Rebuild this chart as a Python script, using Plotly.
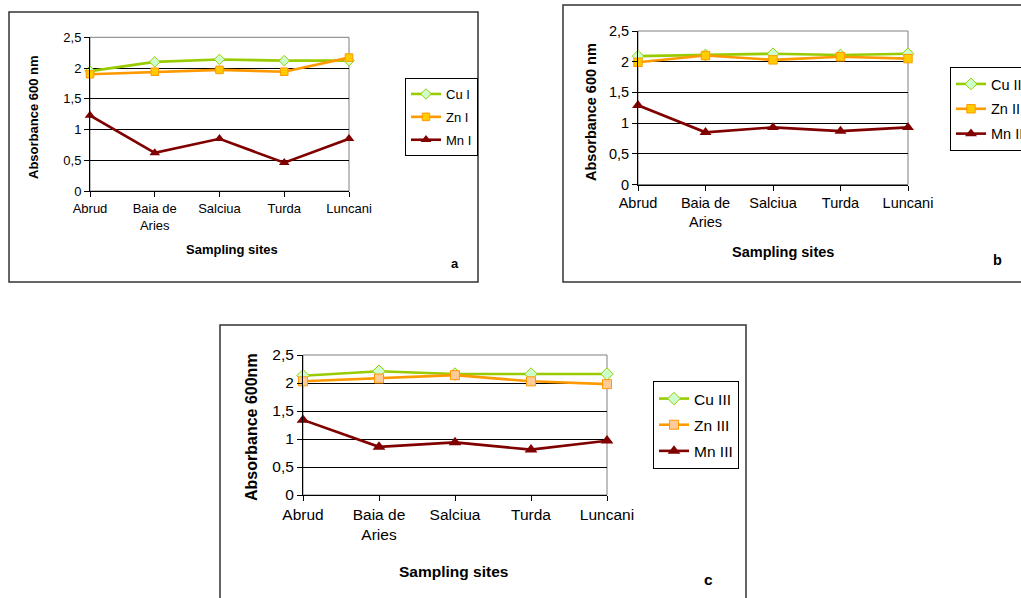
import plotly.graph_objects as go

# ---------------- data ----------------
sites = ["Abrud", "Baia de<br>Aries", "Salciua", "Turda", "Luncani"]

cu_a = [1.95, 2.10, 2.14, 2.12, 2.12]
zn_a = [1.90, 1.94, 1.97, 1.94, 2.17]
mn_a = [1.23, 0.62, 0.85, 0.46, 0.85]

cu_b = [2.09, 2.11, 2.13, 2.11, 2.13]
zn_b = [1.99, 2.10, 2.03, 2.08, 2.05]
mn_b = [1.29, 0.85, 0.93, 0.87, 0.93]

cu_c = [2.13, 2.21, 2.16, 2.16, 2.16]
zn_c = [2.03, 2.08, 2.14, 2.03, 1.98]
mn_c = [1.34, 0.86, 0.94, 0.81, 0.97]

names_a = ["Cu I", "Zn I", "Mn I"]
names_b = ["Cu II", "Zn II", "Mn II"]
names_c = ["Cu III", "Zn III", "Mn III"]

y_title_ab = "Absorbance 600 nm"
y_title_c = "Absorbance 600nm"
x_title = "Sampling sites"

# ---------------- layout helpers ----------------
W, H = 1021, 598
FONT = "Liberation Sans, Arial, sans-serif"


def px(x):
    return x / W


def py(y):
    return 1 - y / H


CU = "#99CC00"
ZN = "#FF9900"
MN = "#800000"

fig = go.Figure()

panels = [
    dict(ax="", cu=cu_a, zn=zn_a, mn=mn_a, names=names_a, dom=(90, 349, 37.3, 191),
         fs=13, znfill="#FFCC00", leg="legend", legpos=(405, 78), gap=3),
    dict(ax="2", cu=cu_b, zn=zn_b, mn=mn_b, names=names_b, dom=(638, 908, 31, 184.5),
         fs=14.5, znfill="#FFCC00", leg="legend2", legpos=(950, 67), gap=3),
    dict(ax="3", cu=cu_c, zn=zn_c, mn=mn_c, names=names_c, dom=(303, 607, 355, 495),
         fs=15.5, znfill="#FFCC99", leg="legend3", legpos=(653, 381), gap=3),
]

layout = dict(
    width=W, height=H, margin=dict(l=0, r=0, t=0, b=0, autoexpand=False),
    paper_bgcolor="white", plot_bgcolor="white",
    font=dict(family=FONT, color="black"),
    separators=", ",
    showlegend=True,
)

shapes = []
annotations = []

for i, p in enumerate(panels):
    xa = "x" + p["ax"]
    ya = "y" + p["ax"]
    x0, x1, yt, yb = p["dom"]
    fs = p["fs"]
    series = [
        (p["cu"], p["names"][0], CU, dict(symbol="diamond", size=fs * 0.62,
                                          color="#CCFFCC", line=dict(color=CU, width=1))),
        (p["zn"], p["names"][1], ZN, dict(symbol="square", size=fs * 0.58,
                                          color=p["znfill"], line=dict(color=ZN, width=1))),
        (p["mn"], p["names"][2], MN, dict(symbol="triangle-up", size=fs * 0.72,
                                          color=MN, line=dict(color=MN, width=0))),
    ]
    for vals, name, col, mk in series:
        fig.add_trace(go.Scatter(
            x=sites, y=vals, name=name, mode="lines+markers",
            line=dict(color=col, width=2.6), marker=mk,
            xaxis=xa, yaxis=ya, legend=p["leg"], legendgroup=name,
            cliponaxis=False,
        ))

    xkey = "xaxis" + p["ax"]
    ykey = "yaxis" + p["ax"]
    layout[xkey] = dict(
        domain=[px(x0), px(x1)], anchor=ya, type="category", range=[0, 4],
        showline=True, linecolor="black", linewidth=1,
        ticks="outside", ticklen=5, tickcolor="black", tickwidth=1,
        showgrid=False, zeroline=False,
        tickfont=dict(size=fs, family=FONT, color="black"),
        fixedrange=True,
    )
    layout[ykey] = dict(
        domain=[py(yb), py(yt)], anchor=xa, range=[0, 2.5], dtick=0.5,
        showline=True, linecolor="black", linewidth=1,
        ticks="outside", ticklen=5, tickcolor="black", tickwidth=1,
        showgrid=True, gridcolor="black", gridwidth=1, zeroline=False,
        tickfont=dict(size=fs, family=FONT, color="black"),
        fixedrange=True,
    )
    lx, ly = p["legpos"]
    layout[p["leg"]] = dict(
        x=px(lx), y=py(ly), xanchor="left", yanchor="top",
        bgcolor="white", bordercolor="black", borderwidth=1,
        font=dict(size=fs, family=FONT, color="black"),
        tracegroupgap=p["gap"], traceorder="grouped", itemwidth=30,
    )
    shapes.append(dict(type="rect", xref=xa + " domain", yref=ya + " domain",
                       x0=0, x1=1, y0=0, y1=1, line=dict(color="#808080", width=1),
                       layer="below"))

# panel frames
frames = [(9, 12, 478, 282), (563, 5, 1040, 282), (220, 325, 746, 610)]
for (fx0, fy0, fx1, fy1) in frames:
    shapes.append(dict(type="rect", xref="paper", yref="paper",
                       x0=px(fx0), x1=px(fx1), y0=py(fy1), y1=py(fy0),
                       line=dict(color="#333333", width=1.5)))

texts = [
    (y_title_ab, 34, 117, 13, -90),
    (x_title, 232, 250, 13, 0),
    ("a", 455, 263, 13, 0),
    (y_title_ab, 591, 112, 14.5, -90),
    (x_title, 783, 252, 14.5, 0),
    ("b", 997, 260, 14.5, 0),
    (y_title_c, 251, 427, 16, -90),
    (x_title, 453, 571, 15.5, 0),
    ("c", 708, 579, 15.5, 0),
]
for t, tx, ty, size, ang in texts:
    annotations.append(dict(text="<b>" + t + "</b>", x=px(tx), y=py(ty),
                            xref="paper", yref="paper", showarrow=False,
                            xanchor="center", yanchor="middle", textangle=ang,
                            font=dict(size=size, family=FONT, color="black")))

layout["shapes"] = shapes
layout["annotations"] = annotations
fig.update_layout(**layout)

fig.write_html("out.html",
               config={"displayModeBar": False, "staticPlot": True},
               post_script="document.body.style.margin='0px';document.body.style.overflow='hidden';")
